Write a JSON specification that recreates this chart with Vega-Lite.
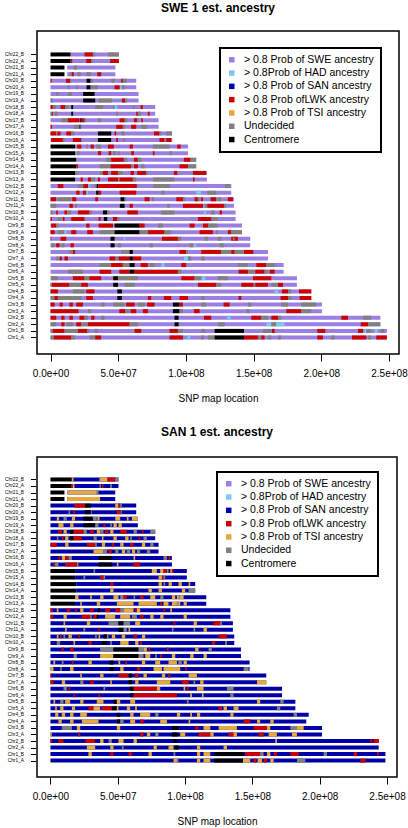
{
"$schema": "https://vega.github.io/schema/vega-lite/v6.json",
"padding": {"left": 3, "top": 1, "right": 0, "bottom": 0},
"spacing": 20,
"config": {
 "font": "Liberation Sans",
 "view": {"stroke": "#000", "strokeWidth": 1.5},
 "axis": {"domain": false, "grid": false, "tickColor": "#000", "tickWidth": 1, "labelColor": "#000", "titleColor": "#000", "titleFontWeight": "normal", "labelFont": "Liberation Sans", "titleFont": "Liberation Sans"},
 "title": {"color": "#000", "font": "Liberation Sans", "fontSize": 12, "fontWeight": "bold", "anchor": "middle", "frame": "group"},
 "legend": {"orient": "none", "title": null, "symbolType": "square", "symbolSize": 30, "symbolStrokeWidth": 0, "labelFontSize": 10.5, "labelFont": "Liberation Sans", "labelColor": "#000", "labelOffset": 7, "rowPadding": 2.3, "padding": 6.5, "strokeColor": "#000", "strokeWidth": 2, "fillColor": "#fff", "labelLimit": 300}
},
"resolve": {"scale": {"color": "independent"}, "legend": {"color": "independent"}},
"datasets": {
"swe": [
{"r":1,"s":0,"e":248.5,"k":"S"},{"r":2,"s":0,"e":248.5,"k":"S"},{"r":3,"s":0,"e":243.6,"k":"S"},{"r":4,"s":0,"e":243.6,"k":"S"},{"r":5,"s":0,"e":200.5,"k":"S"},{"r":6,"s":0,"e":200.5,"k":"S"},{"r":7,"s":0,"e":192.6,"k":"S"},{"r":8,"s":0,"e":192.6,"k":"S"},{"r":9,"s":0,"e":182,"k":"S"},{"r":10,"s":0,"e":182,"k":"S"},{"r":11,"s":0,"e":172.2,"k":"S"},{"r":12,"s":0,"e":172.2,"k":"S"},{"r":13,"s":0,"e":160.6,"k":"S"},{"r":14,"s":0,"e":160.6,"k":"S"},{"r":15,"s":0,"e":147.5,"k":"S"},{"r":16,"s":0,"e":147.5,"k":"S"},{"r":17,"s":0,"e":141.4,"k":"S"},{"r":18,"s":0,"e":141.4,"k":"S"},{"r":19,"s":0,"e":136.7,"k":"S"},{"r":20,"s":0,"e":136.7,"k":"S"},{"r":21,"s":0,"e":135.5,"k":"S"},{"r":22,"s":0,"e":135.5,"k":"S"},{"r":23,"s":0,"e":133.5,"k":"S"},{"r":24,"s":0,"e":133.5,"k":"S"},{"r":25,"s":18.2,"e":115.5,"k":"S"},{"r":26,"s":18.2,"e":115.5,"k":"S"},{"r":27,"s":19,"e":107.6,"k":"S"},{"r":28,"s":19,"e":107.6,"k":"S"},{"r":29,"s":18.2,"e":101.5,"k":"S"},{"r":30,"s":18.2,"e":101.5,"k":"S"},{"r":31,"s":0,"e":89.8,"k":"S"},{"r":32,"s":0,"e":89.8,"k":"S"},{"r":33,"s":0,"e":79.8,"k":"S"},{"r":34,"s":0,"e":79.8,"k":"S"},{"r":35,"s":0,"e":77.3,"k":"S"},{"r":36,"s":0,"e":77.3,"k":"S"},{"r":37,"s":0,"e":65,"k":"S"},{"r":38,"s":0,"e":65,"k":"S"},{"r":39,"s":0,"e":63.3,"k":"S"},{"r":40,"s":0,"e":63.3,"k":"S"},{"r":41,"s":12.3,"e":47.9,"k":"S"},{"r":42,"s":12.3,"e":47.9,"k":"S"},{"r":43,"s":14.8,"e":50.5,"k":"S"},{"r":44,"s":14.8,"e":50.5,"k":"S"},
{"r":44,"s":0,"e":14.8,"k":"C"},{"r":44,"s":25.1,"e":31.3,"k":"L"},{"r":44,"s":31.3,"e":33,"k":"U"},{"r":44,"s":42.4,"e":50.5,"k":"U"},
{"r":43,"s":0,"e":14.8,"k":"C"},{"r":43,"s":14.8,"e":16,"k":"L"},{"r":43,"s":26.4,"e":30,"k":"L"},{"r":43,"s":30,"e":31,"k":"U"},{"r":43,"s":44,"e":50.5,"k":"L"},
{"r":42,"s":0,"e":10.3,"k":"C"},{"r":42,"s":17.2,"e":19.7,"k":"U"},
{"r":41,"s":0,"e":10.3,"k":"C"},{"r":41,"s":14,"e":15.8,"k":"U"},{"r":41,"s":15.8,"e":17.2,"k":"L"},{"r":41,"s":19.7,"e":22.2,"k":"U"},{"r":41,"s":26.4,"e":30,"k":"U"},{"r":41,"s":34.5,"e":37.4,"k":"L"},
{"r":40,"s":0,"e":0.8,"k":"L"},{"r":40,"s":11.4,"e":14.4,"k":"L"},{"r":40,"s":14.4,"e":15.3,"k":"U"},{"r":40,"s":26.6,"e":29.6,"k":"C"},{"r":40,"s":29.6,"e":31.3,"k":"U"},{"r":40,"s":44.8,"e":47.5,"k":"U"},{"r":40,"s":52.2,"e":53.4,"k":"L"},{"r":40,"s":53.4,"e":56.3,"k":"U"},
{"r":39,"s":12.8,"e":14,"k":"U"},{"r":39,"s":19,"e":20.2,"k":"U"},{"r":39,"s":26.6,"e":29.6,"k":"C"},{"r":39,"s":29.6,"e":35,"k":"U"},{"r":39,"s":47.3,"e":51,"k":"L"},{"r":39,"s":51.5,"e":52.7,"k":"H"},{"r":39,"s":52.7,"e":54.7,"k":"U"},
{"r":38,"s":4.2,"e":5.9,"k":"U"},{"r":38,"s":12.8,"e":15.8,"k":"U"},{"r":38,"s":24.1,"e":32.5,"k":"C"},
{"r":37,"s":0,"e":1.7,"k":"U"},{"r":37,"s":24.1,"e":33,"k":"C"},{"r":37,"s":35.5,"e":45.3,"k":"U"},{"r":37,"s":52.7,"e":55.2,"k":"L"},{"r":37,"s":55.2,"e":56.7,"k":"U"},
{"r":36,"s":0,"e":1.7,"k":"L"},{"r":36,"s":1.7,"e":4.2,"k":"U"},{"r":36,"s":7.4,"e":10.8,"k":"L"},{"r":36,"s":10.8,"e":12.8,"k":"U"},{"r":36,"s":15.3,"e":16.7,"k":"C"},{"r":36,"s":33,"e":38.7,"k":"U"},{"r":36,"s":46.1,"e":47.3,"k":"U"},{"r":36,"s":47.3,"e":49.3,"k":"H"},{"r":36,"s":60.8,"e":62.1,"k":"U"},{"r":36,"s":66.5,"e":68.2,"k":"L"},
{"r":35,"s":0,"e":1,"k":"U"},{"r":35,"s":1,"e":1.7,"k":"L"},{"r":35,"s":3,"e":5.4,"k":"U"},{"r":35,"s":15.3,"e":16.7,"k":"C"},{"r":35,"s":48.5,"e":49.8,"k":"U"},{"r":35,"s":63.3,"e":64.5,"k":"L"},{"r":35,"s":64.5,"e":67,"k":"U"},{"r":35,"s":71.9,"e":73.2,"k":"L"},
{"r":34,"s":7.9,"e":12.8,"k":"U"},{"r":34,"s":12.8,"e":21.4,"k":"L"},{"r":34,"s":21.9,"e":22.9,"k":"C"},{"r":34,"s":22.9,"e":25.1,"k":"L"},{"r":34,"s":25.1,"e":26.4,"k":"U"},{"r":34,"s":35,"e":37.4,"k":"U"},{"r":34,"s":51,"e":54.7,"k":"L"},{"r":34,"s":55.2,"e":56.7,"k":"U"},{"r":34,"s":61.6,"e":64,"k":"L"},{"r":34,"s":64,"e":65,"k":"U"},{"r":34,"s":67,"e":68.2,"k":"L"},
{"r":33,"s":0,"e":1,"k":"L"},{"r":33,"s":17.2,"e":21.4,"k":"U"},{"r":33,"s":21.4,"e":22.2,"k":"C"},{"r":33,"s":22.2,"e":22.7,"k":"U"},{"r":33,"s":48.5,"e":53.4,"k":"L"},{"r":33,"s":53.4,"e":55.2,"k":"U"},{"r":33,"s":59.6,"e":63.3,"k":"L"},{"r":33,"s":67,"e":71.4,"k":"U"},
{"r":32,"s":0,"e":4,"k":"L"},{"r":32,"s":4,"e":5,"k":"U"},{"r":32,"s":5,"e":7.4,"k":"L"},{"r":32,"s":11.6,"e":15.3,"k":"L"},{"r":32,"s":15.3,"e":17.7,"k":"U"},{"r":32,"s":35,"e":44.8,"k":"C"},{"r":32,"s":47.3,"e":48.5,"k":"L"},{"r":32,"s":52.2,"e":54.7,"k":"U"},{"r":32,"s":76.4,"e":80.5,"k":"L"},{"r":32,"s":80.5,"e":81.8,"k":"U"},{"r":32,"s":85.5,"e":89.7,"k":"U"},
{"r":31,"s":0.5,"e":9.1,"k":"L"},{"r":31,"s":9.1,"e":10.5,"k":"U"},{"r":31,"s":16.5,"e":22.7,"k":"L"},{"r":31,"s":35,"e":44.8,"k":"C"},{"r":31,"s":48.5,"e":49.8,"k":"L"},{"r":31,"s":53.4,"e":54.7,"k":"U"},{"r":31,"s":80.5,"e":84.2,"k":"L"},{"r":31,"s":84.2,"e":85.5,"k":"U"},{"r":31,"s":85.5,"e":89.2,"k":"L"},
{"r":30,"s":0,"e":18.2,"k":"C"},{"r":30,"s":19.7,"e":22.7,"k":"L"},{"r":30,"s":26.4,"e":27.6,"k":"U"},{"r":30,"s":29.6,"e":32,"k":"L"},{"r":30,"s":33.7,"e":37.4,"k":"U"},{"r":30,"s":42.4,"e":46.8,"k":"L"},{"r":30,"s":58.4,"e":60.8,"k":"L"},{"r":30,"s":75.6,"e":87.9,"k":"U"},{"r":30,"s":93.6,"e":96.1,"k":"L"},
{"r":29,"s":0,"e":18.2,"k":"C"},{"r":29,"s":19.7,"e":21.4,"k":"U"},{"r":29,"s":35,"e":37.4,"k":"L"},{"r":29,"s":42.9,"e":44.8,"k":"L"},{"r":29,"s":46.1,"e":48.5,"k":"U"},{"r":29,"s":49.8,"e":51,"k":"U"},{"r":29,"s":59.6,"e":61.6,"k":"L"},{"r":29,"s":75.6,"e":76.8,"k":"L"},{"r":29,"s":87.9,"e":89.7,"k":"U"},
{"r":28,"s":0,"e":19,"k":"C"},{"r":28,"s":41.1,"e":44.8,"k":"U"},{"r":28,"s":44.8,"e":54.2,"k":"L"},{"r":28,"s":54.2,"e":56.7,"k":"U"},{"r":28,"s":61.6,"e":64.5,"k":"L"},{"r":28,"s":64.5,"e":67,"k":"U"},{"r":28,"s":98.5,"e":103.4,"k":"L"},{"r":28,"s":103.4,"e":107.6,"k":"U"},
{"r":27,"s":0,"e":19,"k":"C"},{"r":27,"s":19,"e":20.2,"k":"L"},{"r":27,"s":36.2,"e":44.3,"k":"U"},{"r":27,"s":44.3,"e":59.6,"k":"L"},{"r":27,"s":59.6,"e":60.8,"k":"U"},{"r":27,"s":61.6,"e":64.5,"k":"L"},{"r":27,"s":67,"e":69.5,"k":"U"},{"r":27,"s":95.3,"e":101.5,"k":"L"},{"r":27,"s":101.5,"e":107.6,"k":"U"},
{"r":26,"s":0,"e":18.2,"k":"C"},{"r":26,"s":18.2,"e":20.2,"k":"U"},{"r":26,"s":36.2,"e":38.7,"k":"U"},{"r":26,"s":38.7,"e":42.4,"k":"L"},{"r":26,"s":44.8,"e":49.8,"k":"L"},{"r":26,"s":49.8,"e":53.4,"k":"U"},{"r":26,"s":59.1,"e":61.6,"k":"L"},{"r":26,"s":64,"e":70.7,"k":"L"},{"r":26,"s":70.7,"e":71.9,"k":"U"},{"r":26,"s":91.1,"e":93.6,"k":"L"},{"r":26,"s":105.2,"e":115,"k":"L"},
{"r":25,"s":0,"e":18.2,"k":"C"},{"r":25,"s":22.2,"e":23.9,"k":"L"},{"r":25,"s":27.6,"e":30,"k":"L"},{"r":25,"s":30,"e":33,"k":"U"},{"r":25,"s":35,"e":36.5,"k":"L"},{"r":25,"s":42.4,"e":50,"k":"L"},{"r":25,"s":50,"e":51,"k":"U"},{"r":25,"s":51,"e":60.8,"k":"L"},{"r":25,"s":60.8,"e":63.3,"k":"U"},{"r":25,"s":75.6,"e":91.6,"k":"U"},{"r":25,"s":105.2,"e":106.4,"k":"L"},
{"r":24,"s":5.3,"e":9.5,"k":"L"},{"r":24,"s":20.2,"e":23.9,"k":"U"},{"r":24,"s":24.2,"e":27.9,"k":"L"},{"r":24,"s":27.9,"e":29,"k":"H"},{"r":24,"s":32.5,"e":34.1,"k":"U"},{"r":24,"s":34.1,"e":35.3,"k":"C"},{"r":24,"s":35.3,"e":63.7,"k":"L"},{"r":24,"s":75.9,"e":88.3,"k":"U"},{"r":24,"s":128.9,"e":132.6,"k":"U"},
{"r":23,"s":19,"e":21.4,"k":"L"},{"r":23,"s":23.9,"e":26.4,"k":"L"},{"r":23,"s":26.4,"e":27.6,"k":"H"},{"r":23,"s":33.7,"e":35.5,"k":"C"},{"r":23,"s":35.5,"e":37.4,"k":"L"},{"r":23,"s":51,"e":63.3,"k":"L"},{"r":23,"s":81.8,"e":84.2,"k":"U"},{"r":23,"s":107.6,"e":111.3,"k":"H"},{"r":23,"s":115.8,"e":122.4,"k":"U"},
{"r":22,"s":0,"e":4.2,"k":"L"},{"r":22,"s":5.4,"e":15.3,"k":"U"},{"r":22,"s":16,"e":19,"k":"L"},{"r":22,"s":33,"e":35,"k":"L"},{"r":22,"s":51.7,"e":54.7,"k":"C"},{"r":22,"s":54.7,"e":55.9,"k":"U"},{"r":22,"s":69.5,"e":73.2,"k":"L"},{"r":22,"s":74.9,"e":76.4,"k":"U"},{"r":22,"s":92.9,"e":97.8,"k":"L"},{"r":22,"s":97.8,"e":99.5,"k":"U"},{"r":22,"s":106.4,"e":108.9,"k":"L"},{"r":22,"s":108.9,"e":110.8,"k":"U"},{"r":22,"s":111.3,"e":112.6,"k":"L"},{"r":22,"s":118.2,"e":122.4,"k":"L"},{"r":22,"s":123.6,"e":126.1,"k":"U"},{"r":22,"s":131,"e":134.7,"k":"L"},
{"r":21,"s":0,"e":4.2,"k":"U"},{"r":21,"s":14,"e":16.5,"k":"L"},{"r":21,"s":18.2,"e":19.5,"k":"U"},{"r":21,"s":51.2,"e":54.7,"k":"C"},{"r":21,"s":58.4,"e":60.8,"k":"L"},{"r":21,"s":86.2,"e":87.9,"k":"U"},{"r":21,"s":97.8,"e":112.6,"k":"L"},{"r":21,"s":113.8,"e":115.8,"k":"U"},{"r":21,"s":115.8,"e":128.1,"k":"L"},{"r":21,"s":128.1,"e":129.8,"k":"U"},
{"r":20,"s":0,"e":1.7,"k":"U"},{"r":20,"s":4.2,"e":5.4,"k":"L"},{"r":20,"s":10.3,"e":12.3,"k":"L"},{"r":20,"s":12.8,"e":15.3,"k":"U"},{"r":20,"s":20.2,"e":28.8,"k":"L"},{"r":20,"s":28.8,"e":30.5,"k":"U"},{"r":20,"s":38.7,"e":41.9,"k":"C"},{"r":20,"s":41.9,"e":43.6,"k":"U"},{"r":20,"s":56.7,"e":64.5,"k":"L"},{"r":20,"s":81.8,"e":91.6,"k":"U"},{"r":20,"s":113.3,"e":114.8,"k":"H"},{"r":20,"s":118.7,"e":121.2,"k":"U"},{"r":20,"s":124.9,"e":126.6,"k":"L"},
{"r":19,"s":0,"e":1,"k":"L"},{"r":19,"s":5.4,"e":7.9,"k":"U"},{"r":19,"s":9.1,"e":10.3,"k":"L"},{"r":19,"s":15.3,"e":25.1,"k":"L"},{"r":19,"s":35.5,"e":36.9,"k":"L"},{"r":19,"s":39.4,"e":41.9,"k":"C"},{"r":19,"s":46.1,"e":49.3,"k":"L"},{"r":19,"s":49.8,"e":51,"k":"U"},{"r":19,"s":108.9,"e":118.7,"k":"L"},{"r":19,"s":118.7,"e":123.6,"k":"U"},
{"r":18,"s":0.5,"e":4.2,"k":"L"},{"r":18,"s":4.2,"e":5.9,"k":"U"},{"r":18,"s":26.4,"e":28.8,"k":"L"},{"r":18,"s":35.5,"e":46.1,"k":"L"},{"r":18,"s":47.3,"e":65.8,"k":"C"},{"r":18,"s":65.8,"e":69.5,"k":"L"},{"r":18,"s":79.3,"e":83,"k":"U"},{"r":18,"s":102.7,"e":106.4,"k":"L"},{"r":18,"s":112.6,"e":116.3,"k":"L"},{"r":18,"s":116.3,"e":123.2,"k":"U"},
{"r":17,"s":0,"e":3,"k":"L"},{"r":17,"s":5.4,"e":10.3,"k":"U"},{"r":17,"s":10.3,"e":11.6,"k":"H"},{"r":17,"s":15.3,"e":19,"k":"L"},{"r":17,"s":27.1,"e":31.3,"k":"L"},{"r":17,"s":36.2,"e":47.3,"k":"U"},{"r":17,"s":47.3,"e":65.8,"k":"C"},{"r":17,"s":65.8,"e":71.9,"k":"U"},{"r":17,"s":71.9,"e":84.2,"k":"L"},{"r":17,"s":84.2,"e":89.2,"k":"U"},{"r":17,"s":110.1,"e":119.9,"k":"L"},{"r":17,"s":122.4,"e":123.6,"k":"U"},{"r":17,"s":131,"e":133.5,"k":"L"},{"r":17,"s":133.5,"e":141.4,"k":"U"},
{"r":16,"s":0,"e":0.5,"k":"L"},{"r":16,"s":7.4,"e":11.6,"k":"L"},{"r":16,"s":44.3,"e":47.3,"k":"C"},{"r":16,"s":54.2,"e":55.2,"k":"H"},{"r":16,"s":82.3,"e":94.1,"k":"L"},{"r":16,"s":94.1,"e":96.6,"k":"U"},{"r":16,"s":113.8,"e":116.3,"k":"U"},{"r":16,"s":123.6,"e":126.1,"k":"U"},{"r":16,"s":133.5,"e":138.4,"k":"L"},{"r":16,"s":134.7,"e":136,"k":"U"},
{"r":15,"s":0.5,"e":3,"k":"U"},{"r":15,"s":4.2,"e":6.7,"k":"L"},{"r":15,"s":7.9,"e":10.3,"k":"U"},{"r":15,"s":14.8,"e":17.2,"k":"L"},{"r":15,"s":44.3,"e":47.3,"k":"C"},{"r":15,"s":49.8,"e":52.2,"k":"U"},{"r":15,"s":73.2,"e":75.6,"k":"U"},{"r":15,"s":102.7,"e":105.2,"k":"U"},{"r":15,"s":105.9,"e":107.6,"k":"H"},{"r":15,"s":125,"e":128,"k":"U"},
{"r":14,"s":14,"e":16.5,"k":"U"},{"r":14,"s":16.5,"e":18.2,"k":"L"},{"r":14,"s":52.2,"e":58.4,"k":"U"},{"r":14,"s":58.4,"e":60.8,"k":"C"},{"r":14,"s":95.3,"e":100.2,"k":"L"},{"r":14,"s":100.2,"e":101.5,"k":"U"},{"r":14,"s":111.3,"e":126.1,"k":"L"},{"r":14,"s":126.1,"e":133.5,"k":"U"},{"r":14,"s":133.5,"e":136,"k":"L"},{"r":14,"s":136,"e":142.9,"k":"U"},{"r":14,"s":142.9,"e":149.8,"k":"L"},
{"r":13,"s":4.2,"e":5.9,"k":"U"},{"r":13,"s":6.7,"e":8.4,"k":"L"},{"r":13,"s":10.3,"e":12.8,"k":"L"},{"r":13,"s":43.6,"e":48,"k":"L"},{"r":13,"s":48,"e":49.8,"k":"U"},{"r":13,"s":50.2,"e":58.4,"k":"L"},{"r":13,"s":58.4,"e":60.8,"k":"C"},{"r":13,"s":60.8,"e":67,"k":"L"},{"r":13,"s":98.5,"e":101.5,"k":"H"},{"r":13,"s":101.5,"e":103.9,"k":"U"},{"r":13,"s":111.3,"e":113.8,"k":"U"},
{"r":12,"s":36.2,"e":44.8,"k":"U"},{"r":12,"s":44.8,"e":53.4,"k":"L"},{"r":12,"s":53.4,"e":58.4,"k":"U"},{"r":12,"s":58.4,"e":62.1,"k":"C"},{"r":12,"s":66.5,"e":71.9,"k":"L"},{"r":12,"s":73.2,"e":76.8,"k":"U"},{"r":12,"s":81.8,"e":84.2,"k":"H"},{"r":12,"s":96.6,"e":100.2,"k":"L"},{"r":12,"s":138.4,"e":145.8,"k":"U"},{"r":12,"s":152,"e":159.4,"k":"L"},{"r":12,"s":159.4,"e":165.5,"k":"U"},
{"r":11,"s":12.8,"e":23.9,"k":"U"},{"r":11,"s":36.2,"e":44.8,"k":"L"},{"r":11,"s":50.8,"e":58.4,"k":"L"},{"r":11,"s":58.4,"e":62.1,"k":"C"},{"r":11,"s":62.1,"e":94.1,"k":"L"},{"r":11,"s":94.1,"e":96.6,"k":"U"},{"r":11,"s":138.9,"e":145.8,"k":"L"},{"r":11,"s":145.8,"e":150.7,"k":"U"},{"r":11,"s":151.2,"e":158.1,"k":"L"},{"r":11,"s":158.1,"e":160.6,"k":"U"},{"r":11,"s":161.8,"e":165.5,"k":"L"},
{"r":10,"s":0.5,"e":5.4,"k":"U"},{"r":10,"s":16.5,"e":25.1,"k":"L"},{"r":10,"s":25.1,"e":28.8,"k":"U"},{"r":10,"s":28.8,"e":37.4,"k":"L"},{"r":10,"s":46.3,"e":49.8,"k":"C"},{"r":10,"s":49.8,"e":64.5,"k":"U"},{"r":10,"s":96.6,"e":106.4,"k":"L"},{"r":10,"s":106.4,"e":111.3,"k":"U"},{"r":10,"s":111.8,"e":114.3,"k":"H"},{"r":10,"s":123.6,"e":131,"k":"U"},{"r":10,"s":149.5,"e":163.1,"k":"L"},
{"r":9,"s":0,"e":1,"k":"U"},{"r":9,"s":1,"e":14,"k":"L"},{"r":9,"s":14,"e":22.7,"k":"U"},{"r":9,"s":22.7,"e":27.6,"k":"L"},{"r":9,"s":46.3,"e":49.8,"k":"C"},{"r":9,"s":54.7,"e":62.1,"k":"U"},{"r":9,"s":108.9,"e":122.4,"k":"L"},{"r":9,"s":122.4,"e":126.1,"k":"U"},{"r":9,"s":140.9,"e":150,"k":"L"},{"r":9,"s":150,"e":151.2,"k":"U"},{"r":9,"s":151.2,"e":160.6,"k":"L"},{"r":9,"s":163.1,"e":168,"k":"U"},{"r":9,"s":168,"e":171.7,"k":"L"},
{"r":8,"s":0,"e":5.4,"k":"L"},{"r":8,"s":16.5,"e":25.1,"k":"U"},{"r":8,"s":26.4,"e":32.5,"k":"L"},{"r":8,"s":49.3,"e":52.7,"k":"C"},{"r":8,"s":165.5,"e":168,"k":"H"},{"r":8,"s":170.9,"e":175.4,"k":"L"},{"r":8,"s":175.4,"e":177.8,"k":"U"},{"r":8,"s":183.5,"e":192.6,"k":"L"},
{"r":7,"s":0,"e":22.7,"k":"U"},{"r":7,"s":3,"e":5.4,"k":"L"},{"r":7,"s":26.4,"e":31.3,"k":"L"},{"r":7,"s":49.3,"e":52.7,"k":"C"},{"r":7,"s":71.9,"e":74.4,"k":"L"},{"r":7,"s":83.7,"e":89.2,"k":"L"},{"r":7,"s":95.3,"e":101.5,"k":"L"},{"r":7,"s":111.3,"e":113.8,"k":"U"},{"r":7,"s":138.9,"e":140.9,"k":"L"},{"r":7,"s":169.9,"e":175.4,"k":"L"},{"r":7,"s":175.4,"e":177.8,"k":"U"},{"r":7,"s":184,"e":192.6,"k":"L"},
{"r":6,"s":0,"e":3,"k":"L"},{"r":6,"s":6.7,"e":9.1,"k":"L"},{"r":6,"s":14,"e":16.5,"k":"L"},{"r":6,"s":19,"e":23.9,"k":"L"},{"r":6,"s":37.4,"e":39.9,"k":"U"},{"r":6,"s":46.3,"e":54.7,"k":"U"},{"r":6,"s":55.9,"e":62.1,"k":"L"},{"r":6,"s":64.5,"e":69.5,"k":"U"},{"r":6,"s":71.4,"e":76.8,"k":"L"},{"r":6,"s":90.4,"e":95.3,"k":"C"},{"r":6,"s":95.3,"e":97.8,"k":"L"},{"r":6,"s":111.3,"e":115,"k":"U"},{"r":6,"s":127.8,"e":132.3,"k":"L"},{"r":6,"s":145.8,"e":148.3,"k":"U"},{"r":6,"s":170.4,"e":175.4,"k":"U"},{"r":6,"s":185.2,"e":196.3,"k":"U"},
{"r":5,"s":0,"e":20.7,"k":"L"},{"r":5,"s":27.6,"e":30,"k":"U"},{"r":5,"s":50.8,"e":55.2,"k":"L"},{"r":5,"s":55.2,"e":58.4,"k":"U"},{"r":5,"s":59.1,"e":63.3,"k":"L"},{"r":5,"s":68.2,"e":71.9,"k":"L"},{"r":5,"s":90.4,"e":95.3,"k":"C"},{"r":5,"s":95.3,"e":97.8,"k":"U"},{"r":5,"s":105.9,"e":110.1,"k":"L"},{"r":5,"s":144.6,"e":147,"k":"U"},{"r":5,"s":174.1,"e":185.2,"k":"L"},{"r":5,"s":185.2,"e":192.6,"k":"U"},
{"r":4,"s":0,"e":4.2,"k":"L"},{"r":4,"s":7.9,"e":10.3,"k":"L"},{"r":4,"s":14,"e":16.5,"k":"L"},{"r":4,"s":21.4,"e":25.1,"k":"L"},{"r":4,"s":25.1,"e":27.6,"k":"U"},{"r":4,"s":30,"e":32.5,"k":"L"},{"r":4,"s":37.4,"e":39.9,"k":"U"},{"r":4,"s":91.6,"e":94.6,"k":"C"},{"r":4,"s":113.3,"e":118.7,"k":"L"},{"r":4,"s":130.5,"e":133,"k":"H"},{"r":4,"s":148.3,"e":155.7,"k":"L"},{"r":4,"s":155.7,"e":160.6,"k":"U"},{"r":4,"s":163.1,"e":168,"k":"L"},{"r":4,"s":168,"e":170.4,"k":"U"},{"r":4,"s":214.8,"e":219.7,"k":"L"},{"r":4,"s":231,"e":236.9,"k":"U"},
{"r":3,"s":0,"e":4.2,"k":"U"},{"r":3,"s":7.9,"e":10.3,"k":"L"},{"r":3,"s":11.6,"e":16.5,"k":"U"},{"r":3,"s":19,"e":22.7,"k":"L"},{"r":3,"s":22.7,"e":27.6,"k":"U"},{"r":3,"s":27.6,"e":58.4,"k":"L"},{"r":3,"s":58.4,"e":64.5,"k":"U"},{"r":3,"s":91.6,"e":94.6,"k":"C"},{"r":3,"s":123.6,"e":128.6,"k":"U"},{"r":3,"s":159.4,"e":163.1,"k":"H"},{"r":3,"s":163.1,"e":166.7,"k":"U"},{"r":3,"s":166.7,"e":172.9,"k":"H"},{"r":3,"s":229.1,"e":234.5,"k":"L"},{"r":3,"s":234.5,"e":243.6,"k":"U"},
{"r":2,"s":0,"e":1.7,"k":"U"},{"r":2,"s":1.7,"e":10.3,"k":"L"},{"r":2,"s":10.3,"e":20.2,"k":"U"},{"r":2,"s":20.2,"e":27.1,"k":"L"},{"r":2,"s":27.1,"e":28.8,"k":"U"},{"r":2,"s":32.5,"e":35,"k":"U"},{"r":2,"s":62.1,"e":67,"k":"L"},{"r":2,"s":87.9,"e":94.1,"k":"L"},{"r":2,"s":94.1,"e":97.8,"k":"U"},{"r":2,"s":111.3,"e":114.3,"k":"U"},{"r":2,"s":121.2,"e":142.9,"k":"C"},{"r":2,"s":156.9,"e":163.1,"k":"U"},{"r":2,"s":163.5,"e":165.5,"k":"L"},{"r":2,"s":197,"e":203,"k":"L"},{"r":2,"s":203,"e":203.7,"k":"U"},{"r":2,"s":227.1,"e":230.8,"k":"L"},{"r":2,"s":232,"e":233.3,"k":"H"},{"r":2,"s":233.3,"e":236.9,"k":"U"},{"r":2,"s":239.4,"e":241.9,"k":"H"},{"r":2,"s":244.3,"e":246.3,"k":"U"},
{"r":1,"s":0,"e":2.5,"k":"U"},{"r":1,"s":2.5,"e":15.3,"k":"L"},{"r":1,"s":15.3,"e":18.2,"k":"U"},{"r":1,"s":28.8,"e":33,"k":"U"},{"r":1,"s":33,"e":37.4,"k":"L"},{"r":1,"s":87.9,"e":97.8,"k":"L"},{"r":1,"s":101,"e":103.4,"k":"H"},{"r":1,"s":111.3,"e":113.3,"k":"U"},{"r":1,"s":116.3,"e":121.2,"k":"U"},{"r":1,"s":121.2,"e":142.9,"k":"C"},{"r":1,"s":142.9,"e":153.2,"k":"L"},{"r":1,"s":153.2,"e":155.7,"k":"U"},{"r":1,"s":155.7,"e":158.1,"k":"L"},{"r":1,"s":160.6,"e":163.1,"k":"U"},{"r":1,"s":168,"e":170.4,"k":"U"},{"r":1,"s":197,"e":201.2,"k":"L"},{"r":1,"s":207.4,"e":209.9,"k":"U"},{"r":1,"s":222.7,"e":233.3,"k":"L"},{"r":1,"s":234.5,"e":236.9,"k":"U"},{"r":1,"s":240.6,"e":248.5,"k":"L"}
],
"san": [
{"r":1,"s":0,"e":248.8,"k":"N"},{"r":2,"s":0,"e":248.8,"k":"N"},{"r":3,"s":0,"e":243.8,"k":"N"},{"r":4,"s":0,"e":243.8,"k":"N"},{"r":5,"s":0,"e":201.7,"k":"N"},{"r":6,"s":0,"e":201.7,"k":"N"},{"r":7,"s":0,"e":190,"k":"N"},{"r":8,"s":0,"e":191.8,"k":"N"},{"r":9,"s":0,"e":181.9,"k":"N"},{"r":10,"s":0,"e":181.9,"k":"N"},{"r":11,"s":0,"e":172,"k":"N"},{"r":12,"s":0,"e":172,"k":"N"},{"r":13,"s":0,"e":160.3,"k":"N"},{"r":14,"s":0,"e":160.3,"k":"N"},{"r":15,"s":0,"e":147.9,"k":"N"},{"r":16,"s":0,"e":147.9,"k":"N"},{"r":17,"s":0,"e":141.5,"k":"N"},{"r":18,"s":0,"e":141.5,"k":"N"},{"r":19,"s":0,"e":136.5,"k":"N"},{"r":20,"s":0,"e":136.5,"k":"N"},{"r":21,"s":0,"e":135.5,"k":"N"},{"r":22,"s":0,"e":135.5,"k":"N"},{"r":23,"s":0,"e":133.6,"k":"N"},{"r":24,"s":0,"e":133.6,"k":"N"},{"r":25,"s":18.3,"e":115.7,"k":"N"},{"r":26,"s":18.3,"e":115.7,"k":"N"},{"r":27,"s":19.1,"e":107.5,"k":"N"},{"r":28,"s":19.1,"e":107.5,"k":"N"},{"r":29,"s":18.3,"e":101.3,"k":"N"},{"r":30,"s":18.3,"e":101.3,"k":"N"},{"r":31,"s":0,"e":90.2,"k":"N"},{"r":32,"s":0,"e":90.2,"k":"N"},{"r":33,"s":0,"e":80.3,"k":"N"},{"r":34,"s":0,"e":80.3,"k":"N"},{"r":35,"s":0,"e":77.8,"k":"N"},{"r":36,"s":0,"e":77.8,"k":"N"},{"r":37,"s":0,"e":64.9,"k":"N"},{"r":38,"s":0,"e":64.9,"k":"N"},{"r":39,"s":0,"e":63.7,"k":"N"},{"r":40,"s":0,"e":63.7,"k":"N"},{"r":41,"s":12.6,"e":48.1,"k":"N"},{"r":42,"s":12.6,"e":48.1,"k":"N"},{"r":43,"s":15.4,"e":50.5,"k":"N"},{"r":44,"s":15.9,"e":50.5,"k":"N"},
{"r":44,"s":0,"e":15.9,"k":"C"},{"r":44,"s":15.9,"e":17.1,"k":"T"},{"r":44,"s":36.4,"e":42.4,"k":"T"},{"r":44,"s":42.4,"e":48.1,"k":"L"},{"r":44,"s":48.1,"e":50.5,"k":"U"},
{"r":43,"s":0,"e":15.4,"k":"C"},{"r":43,"s":15.4,"e":16.6,"k":"L"},{"r":43,"s":16.6,"e":17.8,"k":"T"},{"r":43,"s":36.4,"e":37.4,"k":"U"},{"r":43,"s":38.2,"e":39.4,"k":"L"},{"r":43,"s":44.4,"e":45.6,"k":"U"},
{"r":42,"s":0,"e":10.4,"k":"C"},{"r":42,"s":12.6,"e":34.4,"k":"T"},{"r":42,"s":34.4,"e":35.7,"k":"U"},
{"r":41,"s":0,"e":10.4,"k":"C"},{"r":41,"s":12.6,"e":36.9,"k":"T"},
{"r":40,"s":17.6,"e":25.8,"k":"L"},{"r":40,"s":25.8,"e":30,"k":"C"},{"r":40,"s":48.1,"e":50.5,"k":"T"},{"r":40,"s":50.5,"e":51.8,"k":"L"},{"r":40,"s":51.8,"e":53,"k":"U"},
{"r":39,"s":13.4,"e":14.6,"k":"U"},{"r":39,"s":17.1,"e":18.3,"k":"L"},{"r":39,"s":25.8,"e":30,"k":"C"},{"r":39,"s":30,"e":30.7,"k":"U"},{"r":39,"s":49.3,"e":52.3,"k":"L"},{"r":39,"s":52.3,"e":53,"k":"U"},
{"r":38,"s":4.7,"e":6.4,"k":"T"},{"r":38,"s":9.7,"e":12.1,"k":"U"},{"r":38,"s":15.9,"e":18.3,"k":"T"},{"r":38,"s":24.5,"e":31.5,"k":"C"},{"r":38,"s":31.5,"e":34.4,"k":"U"},{"r":38,"s":34.9,"e":36.4,"k":"T"},{"r":38,"s":48.1,"e":51.8,"k":"T"},{"r":38,"s":56.7,"e":58,"k":"T"},{"r":38,"s":60.5,"e":64.9,"k":"T"},
{"r":37,"s":5.9,"e":9.7,"k":"T"},{"r":37,"s":14.6,"e":17.1,"k":"T"},{"r":37,"s":24.5,"e":33.2,"k":"C"},{"r":37,"s":33.2,"e":35.7,"k":"U"},{"r":37,"s":39.4,"e":40.6,"k":"L"},{"r":37,"s":44.4,"e":45.6,"k":"U"},{"r":37,"s":46.8,"e":49.3,"k":"T"},{"r":37,"s":50.5,"e":53,"k":"T"},
{"r":36,"s":5.9,"e":8.4,"k":"L"},{"r":36,"s":9.7,"e":12.1,"k":"T"},{"r":36,"s":14.6,"e":17.1,"k":"C"},{"r":36,"s":17.1,"e":24.5,"k":"L"},{"r":36,"s":24.5,"e":27,"k":"U"},{"r":36,"s":29.5,"e":32,"k":"L"},{"r":36,"s":34.4,"e":36.9,"k":"T"},{"r":36,"s":36.9,"e":39.4,"k":"U"},{"r":36,"s":40.6,"e":43.1,"k":"L"},{"r":36,"s":44.4,"e":46.8,"k":"T"},{"r":36,"s":51.8,"e":56.7,"k":"L"},{"r":36,"s":61.7,"e":64.2,"k":"U"},{"r":36,"s":67.9,"e":69.1,"k":"L"},{"r":36,"s":74.1,"e":77.8,"k":"U"},
{"r":35,"s":4.7,"e":5.9,"k":"U"},{"r":35,"s":8.4,"e":9.7,"k":"L"},{"r":35,"s":10.9,"e":13.4,"k":"T"},{"r":35,"s":14.6,"e":17.1,"k":"C"},{"r":35,"s":17.1,"e":23.3,"k":"L"},{"r":35,"s":32,"e":34.4,"k":"U"},{"r":35,"s":38.2,"e":39.4,"k":"T"},{"r":35,"s":46.8,"e":49.3,"k":"T"},{"r":35,"s":55.5,"e":58,"k":"T"},{"r":35,"s":59.2,"e":60.5,"k":"U"},{"r":35,"s":65.4,"e":66.6,"k":"L"},{"r":35,"s":69.1,"e":71.6,"k":"U"},
{"r":34,"s":0,"e":4.7,"k":"L"},{"r":34,"s":10.9,"e":13.4,"k":"T"},{"r":34,"s":27,"e":33.2,"k":"L"},{"r":34,"s":33.2,"e":34.4,"k":"U"},{"r":34,"s":38.2,"e":40.6,"k":"T"},{"r":34,"s":45.6,"e":47.3,"k":"L"},{"r":34,"s":51.8,"e":54.3,"k":"T"},{"r":34,"s":59.2,"e":61.7,"k":"L"},{"r":34,"s":67.9,"e":70.4,"k":"T"},{"r":34,"s":74.1,"e":76.6,"k":"U"},
{"r":33,"s":32,"e":39.4,"k":"T"},{"r":33,"s":39.4,"e":41.9,"k":"U"},{"r":33,"s":43.1,"e":45.6,"k":"L"},{"r":33,"s":48.1,"e":50.5,"k":"U"},{"r":33,"s":53,"e":55.5,"k":"T"},{"r":33,"s":56.7,"e":59.2,"k":"U"},{"r":33,"s":60.5,"e":62.9,"k":"T"},{"r":33,"s":64.2,"e":66.6,"k":"U"},{"r":33,"s":71.6,"e":74.1,"k":"U"},
{"r":32,"s":5.9,"e":7.2,"k":"L"},{"r":32,"s":8.4,"e":10.9,"k":"T"},{"r":32,"s":10.9,"e":13.4,"k":"L"},{"r":32,"s":13.4,"e":15.9,"k":"U"},{"r":32,"s":35.7,"e":45.6,"k":"C"},{"r":32,"s":61.7,"e":62.9,"k":"T"},{"r":32,"s":84,"e":86.5,"k":"U"},{"r":32,"s":87.7,"e":89,"k":"L"},
{"r":31,"s":2.2,"e":3.5,"k":"L"},{"r":31,"s":3.5,"e":5.9,"k":"U"},{"r":31,"s":10.9,"e":19.6,"k":"L"},{"r":31,"s":19.6,"e":20.8,"k":"U"},{"r":31,"s":35.7,"e":45.6,"k":"C"},{"r":31,"s":49.3,"e":50.5,"k":"T"},{"r":31,"s":61.7,"e":66.6,"k":"L"},
{"r":30,"s":0,"e":18.3,"k":"C"},{"r":30,"s":32,"e":33.2,"k":"U"},{"r":30,"s":75.3,"e":79,"k":"T"},{"r":30,"s":81.5,"e":84,"k":"T"},{"r":30,"s":84,"e":86.5,"k":"L"},{"r":30,"s":86.5,"e":87.7,"k":"U"},{"r":30,"s":89,"e":90.2,"k":"T"},{"r":30,"s":90.2,"e":91.4,"k":"L"},
{"r":29,"s":0,"e":18.3,"k":"C"},{"r":29,"s":24.5,"e":25.8,"k":"U"},{"r":29,"s":36.9,"e":39.4,"k":"L"},{"r":29,"s":39.4,"e":40.6,"k":"U"},{"r":29,"s":80.3,"e":82.8,"k":"T"},{"r":29,"s":82.8,"e":84,"k":"L"},{"r":29,"s":84,"e":85.2,"k":"U"},
{"r":28,"s":0,"e":19.1,"k":"C"},{"r":28,"s":44.4,"e":46.8,"k":"L"},{"r":28,"s":80.3,"e":82.8,"k":"T"},{"r":28,"s":84,"e":85.2,"k":"U"},{"r":28,"s":87.7,"e":90.2,"k":"T"},{"r":28,"s":95.1,"e":97.6,"k":"T"},{"r":28,"s":102.6,"e":103.8,"k":"T"},
{"r":27,"s":0,"e":19.1,"k":"C"},{"r":27,"s":44.4,"e":46.8,"k":"T"},{"r":27,"s":72.8,"e":75.3,"k":"T"},{"r":27,"s":80.3,"e":82.8,"k":"T"},{"r":27,"s":97.6,"e":100.1,"k":"T"},{"r":27,"s":102.6,"e":107.5,"k":"U"},
{"r":26,"s":0,"e":18.3,"k":"C"},{"r":26,"s":18.3,"e":20.8,"k":"T"},{"r":26,"s":29.5,"e":30.7,"k":"T"},{"r":26,"s":36.9,"e":39.4,"k":"T"},{"r":26,"s":46.8,"e":50.5,"k":"T"},{"r":26,"s":51.8,"e":54.3,"k":"U"},{"r":26,"s":54.3,"e":56.7,"k":"L"},{"r":26,"s":61.7,"e":62.9,"k":"U"},{"r":26,"s":66.6,"e":69.1,"k":"L"},{"r":26,"s":74.1,"e":77.8,"k":"T"},{"r":26,"s":81.5,"e":84,"k":"U"},{"r":26,"s":90.2,"e":92.7,"k":"T"},{"r":26,"s":93.9,"e":98.9,"k":"T"},{"r":26,"s":95.1,"e":96.4,"k":"U"},
{"r":25,"s":0,"e":18.3,"k":"C"},{"r":25,"s":22.1,"e":23.3,"k":"T"},{"r":25,"s":34.4,"e":36.9,"k":"T"},{"r":25,"s":49.3,"e":61.7,"k":"T"},{"r":25,"s":65.4,"e":79,"k":"T"},{"r":25,"s":81.5,"e":82.8,"k":"L"},{"r":25,"s":84,"e":87.7,"k":"T"},{"r":25,"s":90.2,"e":96.4,"k":"T"},{"r":25,"s":93.9,"e":95.1,"k":"U"},{"r":25,"s":98.9,"e":101.3,"k":"T"},
{"r":24,"s":0,"e":1.7,"k":"L"},{"r":24,"s":4.7,"e":5.9,"k":"T"},{"r":24,"s":12.1,"e":14.6,"k":"L"},{"r":24,"s":18.3,"e":19.6,"k":"L"},{"r":24,"s":22.1,"e":24.5,"k":"T"},{"r":24,"s":29.5,"e":32,"k":"L"},{"r":24,"s":35.2,"e":36.9,"k":"C"},{"r":24,"s":40.6,"e":44.4,"k":"L"},{"r":24,"s":48.1,"e":51.8,"k":"L"},{"r":24,"s":51.8,"e":54.3,"k":"U"},{"r":24,"s":54.3,"e":61.7,"k":"T"},{"r":24,"s":62.9,"e":64.2,"k":"L"},{"r":24,"s":64.2,"e":66.6,"k":"T"},{"r":24,"s":84,"e":85.2,"k":"L"},{"r":24,"s":89,"e":90.2,"k":"T"},
{"r":23,"s":0,"e":2.2,"k":"L"},{"r":23,"s":9.7,"e":12.1,"k":"T"},{"r":23,"s":23.3,"e":29.5,"k":"L"},{"r":23,"s":29.5,"e":30.7,"k":"U"},{"r":23,"s":32,"e":34.4,"k":"L"},{"r":23,"s":34.4,"e":35.7,"k":"C"},{"r":23,"s":40.6,"e":48.1,"k":"T"},{"r":23,"s":51.8,"e":59.2,"k":"T"},{"r":23,"s":60.5,"e":64.2,"k":"U"},{"r":23,"s":66.6,"e":69.1,"k":"L"},{"r":23,"s":74.1,"e":76.6,"k":"T"},{"r":23,"s":81.5,"e":84,"k":"T"},{"r":23,"s":98.9,"e":101.3,"k":"T"},
{"r":22,"s":9.7,"e":10.9,"k":"T"},{"r":22,"s":27,"e":29.5,"k":"T"},{"r":22,"s":43.1,"e":50.5,"k":"U"},{"r":22,"s":50.5,"e":54.3,"k":"C"},{"r":22,"s":54.3,"e":59.2,"k":"U"},{"r":22,"s":62.9,"e":66.6,"k":"T"},{"r":22,"s":91.4,"e":92.7,"k":"L"},{"r":22,"s":106.3,"e":108.8,"k":"T"},{"r":22,"s":121.2,"e":126.1,"k":"L"},{"r":22,"s":126.1,"e":127.4,"k":"U"},
{"r":21,"s":10.9,"e":12.1,"k":"T"},{"r":21,"s":24.5,"e":25.8,"k":"U"},{"r":21,"s":35.7,"e":36.9,"k":"L"},{"r":21,"s":50.5,"e":54.3,"k":"C"},{"r":21,"s":54.3,"e":56.7,"k":"U"},{"r":21,"s":58,"e":59.2,"k":"T"},{"r":21,"s":90.2,"e":91.4,"k":"U"},{"r":21,"s":106.3,"e":107.5,"k":"U"},{"r":21,"s":113.7,"e":116.2,"k":"T"},
{"r":20,"s":4.7,"e":5.9,"k":"T"},{"r":20,"s":7.2,"e":8.4,"k":"L"},{"r":20,"s":9.7,"e":10.9,"k":"U"},{"r":20,"s":13.4,"e":15.9,"k":"T"},{"r":20,"s":20.8,"e":22.1,"k":"L"},{"r":20,"s":33.2,"e":34.4,"k":"U"},{"r":20,"s":35.7,"e":36.9,"k":"T"},{"r":20,"s":39.4,"e":41.9,"k":"C"},{"r":20,"s":41.9,"e":43.1,"k":"U"},{"r":20,"s":45.6,"e":48.1,"k":"T"},{"r":20,"s":53,"e":55.5,"k":"T"},{"r":20,"s":61.7,"e":64.2,"k":"L"},{"r":20,"s":67.9,"e":70.4,"k":"T"},{"r":20,"s":124.9,"e":131.1,"k":"L"},
{"r":19,"s":4.7,"e":7.2,"k":"U"},{"r":19,"s":17.1,"e":18.3,"k":"T"},{"r":19,"s":28.2,"e":30.7,"k":"L"},{"r":19,"s":38.2,"e":41.9,"k":"C"},{"r":19,"s":44.4,"e":45.6,"k":"U"},{"r":19,"s":51.8,"e":58,"k":"T"},{"r":19,"s":62.9,"e":65.4,"k":"T"},{"r":19,"s":66.6,"e":67.9,"k":"L"},{"r":19,"s":119.9,"e":122.4,"k":"L"},{"r":19,"s":129.8,"e":131.1,"k":"U"},
{"r":18,"s":8.4,"e":9.7,"k":"L"},{"r":18,"s":14.6,"e":17.1,"k":"L"},{"r":18,"s":36.9,"e":46.8,"k":"U"},{"r":18,"s":46.8,"e":65.4,"k":"C"},{"r":18,"s":65.4,"e":69.1,"k":"U"},{"r":18,"s":69.1,"e":71.6,"k":"T"},{"r":18,"s":72.8,"e":74.1,"k":"L"},{"r":18,"s":86.5,"e":87.7,"k":"L"},{"r":18,"s":107.5,"e":110,"k":"T"},{"r":18,"s":117.4,"e":119.9,"k":"U"},
{"r":17,"s":17.1,"e":19.6,"k":"U"},{"r":17,"s":36.9,"e":46.8,"k":"T"},{"r":17,"s":46.8,"e":65.4,"k":"C"},{"r":17,"s":65.4,"e":69.1,"k":"U"},{"r":17,"s":70.4,"e":74.1,"k":"T"},{"r":17,"s":77.8,"e":79,"k":"U"},{"r":17,"s":81.5,"e":82.8,"k":"L"},{"r":17,"s":90.2,"e":92.7,"k":"T"},{"r":17,"s":103.8,"e":106.3,"k":"T"},{"r":17,"s":113.7,"e":116.2,"k":"T"},
{"r":16,"s":2.2,"e":3.5,"k":"T"},{"r":16,"s":8.4,"e":9.7,"k":"U"},{"r":16,"s":15.9,"e":17.1,"k":"L"},{"r":16,"s":28.2,"e":30.7,"k":"T"},{"r":16,"s":43.9,"e":46.8,"k":"C"},{"r":16,"s":50.5,"e":51.8,"k":"T"},{"r":16,"s":55.5,"e":56.7,"k":"L"},{"r":16,"s":67.9,"e":70.4,"k":"T"},{"r":16,"s":77.8,"e":81.5,"k":"T"},{"r":16,"s":87.7,"e":93.9,"k":"T"},{"r":16,"s":95.1,"e":97.6,"k":"U"},{"r":16,"s":98.9,"e":101.3,"k":"T"},
{"r":15,"s":0,"e":2.2,"k":"T"},{"r":15,"s":7.2,"e":8.4,"k":"U"},{"r":15,"s":14.6,"e":17.1,"k":"T"},{"r":15,"s":43.9,"e":46.8,"k":"C"},{"r":15,"s":51.8,"e":54.3,"k":"T"},{"r":15,"s":64.2,"e":66.6,"k":"L"},{"r":15,"s":76.6,"e":82.8,"k":"T"},{"r":15,"s":84,"e":96.4,"k":"T"},{"r":15,"s":100.1,"e":101.3,"k":"L"},{"r":15,"s":143.5,"e":147.2,"k":"U"},
{"r":14,"s":0,"e":1,"k":"L"},{"r":14,"s":22.1,"e":23.3,"k":"T"},{"r":14,"s":36.9,"e":39.4,"k":"T"},{"r":14,"s":50.5,"e":58,"k":"L"},{"r":14,"s":58,"e":60.5,"k":"C"},{"r":14,"s":62.9,"e":65.4,"k":"L"},{"r":14,"s":69.1,"e":71.6,"k":"T"},{"r":14,"s":82.8,"e":85.2,"k":"T"},{"r":14,"s":87.7,"e":89,"k":"L"},{"r":14,"s":102.6,"e":108.8,"k":"T"},
{"r":13,"s":0,"e":2.2,"k":"L"},{"r":13,"s":8.4,"e":10.9,"k":"T"},{"r":13,"s":22.1,"e":24.5,"k":"U"},{"r":13,"s":29.5,"e":32,"k":"L"},{"r":13,"s":44.4,"e":45.6,"k":"T"},{"r":13,"s":58,"e":60.5,"k":"C"},{"r":13,"s":62.9,"e":65.4,"k":"T"},{"r":13,"s":79,"e":89,"k":"T"},{"r":13,"s":97.6,"e":102.6,"k":"L"},{"r":13,"s":106.3,"e":107.5,"k":"U"},{"r":13,"s":111.2,"e":113.7,"k":"T"},{"r":13,"s":153.4,"e":160.3,"k":"T"},
{"r":12,"s":9.7,"e":12.1,"k":"U"},{"r":12,"s":13.4,"e":14.6,"k":"L"},{"r":12,"s":39.4,"e":40.6,"k":"U"},{"r":12,"s":58.7,"e":61.7,"k":"C"},{"r":12,"s":61.7,"e":79,"k":"L"},{"r":12,"s":79,"e":81.5,"k":"T"},{"r":12,"s":98.9,"e":100.1,"k":"T"},{"r":12,"s":101.3,"e":102.6,"k":"L"},{"r":12,"s":108.8,"e":113.7,"k":"T"},{"r":12,"s":131.1,"e":136,"k":"U"},
{"r":11,"s":17.1,"e":18.3,"k":"L"},{"r":11,"s":35.7,"e":36.9,"k":"L"},{"r":11,"s":59.2,"e":61.7,"k":"C"},{"r":11,"s":61.7,"e":93.9,"k":"L"},{"r":11,"s":103.8,"e":105.1,"k":"T"},{"r":11,"s":112.5,"e":113.7,"k":"T"},{"r":11,"s":133.6,"e":136,"k":"U"},
{"r":10,"s":2.2,"e":3.5,"k":"T"},{"r":10,"s":7.2,"e":9.7,"k":"U"},{"r":10,"s":10.9,"e":14.6,"k":"T"},{"r":10,"s":22.1,"e":24.5,"k":"T"},{"r":10,"s":34.4,"e":39.4,"k":"T"},{"r":10,"s":46.8,"e":49.3,"k":"C"},{"r":10,"s":49.3,"e":51.8,"k":"T"},{"r":10,"s":59.2,"e":62.9,"k":"T"},{"r":10,"s":101.3,"e":102.6,"k":"U"},{"r":10,"s":153.4,"e":155.8,"k":"T"},{"r":10,"s":170.7,"e":173.2,"k":"U"},
{"r":9,"s":3.5,"e":4.7,"k":"T"},{"r":9,"s":7.2,"e":9.7,"k":"T"},{"r":9,"s":15.9,"e":18.3,"k":"T"},{"r":9,"s":28.2,"e":32,"k":"L"},{"r":9,"s":32,"e":36.9,"k":"T"},{"r":9,"s":38.2,"e":45.6,"k":"L"},{"r":9,"s":45.6,"e":49.3,"k":"C"},{"r":9,"s":49.3,"e":50.5,"k":"T"},{"r":9,"s":56.7,"e":59.2,"k":"T"},{"r":9,"s":62.9,"e":64.2,"k":"T"},{"r":9,"s":124.9,"e":127.4,"k":"L"},{"r":9,"s":128.6,"e":131.1,"k":"T"},{"r":9,"s":136,"e":139.7,"k":"T"},{"r":9,"s":168.2,"e":170.7,"k":"U"},
{"r":8,"s":3.5,"e":5.9,"k":"T"},{"r":8,"s":8.4,"e":10.9,"k":"T"},{"r":8,"s":14.6,"e":17.1,"k":"T"},{"r":8,"s":22.1,"e":27,"k":"T"},{"r":8,"s":49.3,"e":51.8,"k":"C"},{"r":8,"s":59.2,"e":61.7,"k":"T"},{"r":8,"s":66.6,"e":74.1,"k":"T"},{"r":8,"s":77.8,"e":80.3,"k":"U"},{"r":8,"s":93.9,"e":96.4,"k":"T"},{"r":8,"s":103.8,"e":105.1,"k":"T"},{"r":8,"s":108.8,"e":111.2,"k":"T"},{"r":8,"s":133.6,"e":136,"k":"T"},{"r":8,"s":180.6,"e":183.1,"k":"U"},
{"r":7,"s":5.9,"e":8.4,"k":"T"},{"r":7,"s":14.6,"e":17.1,"k":"T"},{"r":7,"s":23.3,"e":35.7,"k":"T"},{"r":7,"s":49.3,"e":51.8,"k":"C"},{"r":7,"s":51.8,"e":54.3,"k":"U"},{"r":7,"s":59.2,"e":62.9,"k":"T"},{"r":7,"s":66.6,"e":69.1,"k":"L"},{"r":7,"s":81.5,"e":86.5,"k":"T"},{"r":7,"s":102.6,"e":103.8,"k":"T"},{"r":7,"s":143.5,"e":148.4,"k":"L"},{"r":7,"s":153.4,"e":155.8,"k":"T"},{"r":7,"s":163.3,"e":165.8,"k":"T"},
{"r":6,"s":8.4,"e":15.9,"k":"U"},{"r":6,"s":19.6,"e":22.1,"k":"T"},{"r":6,"s":49.3,"e":51.8,"k":"T"},{"r":6,"s":90.2,"e":95.1,"k":"C"},{"r":6,"s":107.5,"e":110,"k":"L"},{"r":6,"s":113.7,"e":118.7,"k":"T"},{"r":6,"s":124.9,"e":138.5,"k":"T"},{"r":6,"s":150.9,"e":160.8,"k":"L"},{"r":6,"s":160.8,"e":163.3,"k":"T"},{"r":6,"s":178.2,"e":183.1,"k":"U"},{"r":6,"s":183.1,"e":188.1,"k":"T"},
{"r":5,"s":0,"e":1,"k":"T"},{"r":5,"s":20.8,"e":22.1,"k":"L"},{"r":5,"s":66.6,"e":69.1,"k":"L"},{"r":5,"s":71.6,"e":74.1,"k":"T"},{"r":5,"s":77.8,"e":80.3,"k":"U"},{"r":5,"s":90.2,"e":95.1,"k":"C"},{"r":5,"s":96.4,"e":100.1,"k":"T"},{"r":5,"s":110,"e":118.7,"k":"L"},{"r":5,"s":118.7,"e":121.2,"k":"T"},{"r":5,"s":132.3,"e":136,"k":"L"},{"r":5,"s":136,"e":138.5,"k":"T"},{"r":5,"s":154.6,"e":158.3,"k":"L"},{"r":5,"s":162,"e":168.2,"k":"T"},{"r":5,"s":179.4,"e":183.1,"k":"T"},
{"r":4,"s":0,"e":1,"k":"L"},{"r":4,"s":5.9,"e":9.7,"k":"L"},{"r":4,"s":25.8,"e":33.2,"k":"L"},{"r":4,"s":36.9,"e":39.4,"k":"T"},{"r":4,"s":43.1,"e":45.6,"k":"U"},{"r":4,"s":50.5,"e":54.3,"k":"T"},{"r":4,"s":61.7,"e":64.2,"k":"T"},{"r":4,"s":91.4,"e":93.9,"k":"C"},{"r":4,"s":167,"e":168.2,"k":"T"},{"r":4,"s":237.6,"e":238.9,"k":"L"},{"r":4,"s":240,"e":243.8,"k":"L"},
{"r":3,"s":27,"e":33.2,"k":"T"},{"r":3,"s":44.4,"e":46.8,"k":"T"},{"r":3,"s":53,"e":54.3,"k":"U"},{"r":3,"s":76.6,"e":79,"k":"T"},{"r":3,"s":87.7,"e":91.4,"k":"T"},{"r":3,"s":91.9,"e":95.1,"k":"C"},{"r":3,"s":108.8,"e":111.2,"k":"T"},{"r":3,"s":128.6,"e":131.1,"k":"T"},
{"r":2,"s":28.2,"e":30.7,"k":"T"},{"r":2,"s":44.4,"e":46.8,"k":"L"},{"r":2,"s":58,"e":60.5,"k":"L"},{"r":2,"s":72.8,"e":75.3,"k":"T"},{"r":2,"s":91.4,"e":92.7,"k":"U"},{"r":2,"s":108.8,"e":111.2,"k":"T"},{"r":2,"s":113.7,"e":118.7,"k":"T"},{"r":2,"s":121.7,"e":143.5,"k":"C"},{"r":2,"s":144.7,"e":155.8,"k":"L"},{"r":2,"s":155.8,"e":158.3,"k":"U"},{"r":2,"s":160.8,"e":163.3,"k":"T"},{"r":2,"s":165.8,"e":168.2,"k":"L"},{"r":2,"s":178.2,"e":184.3,"k":"L"},{"r":2,"s":202.9,"e":205.4,"k":"U"},{"r":2,"s":225.2,"e":227.7,"k":"L"},{"r":2,"s":242.6,"e":243.8,"k":"L"},
{"r":1,"s":91.4,"e":93.9,"k":"T"},{"r":1,"s":93.9,"e":95.1,"k":"U"},{"r":1,"s":108.8,"e":111.2,"k":"T"},{"r":1,"s":113.7,"e":118.7,"k":"T"},{"r":1,"s":121.7,"e":143,"k":"C"},{"r":1,"s":143,"e":148.4,"k":"T"},{"r":1,"s":150.9,"e":152.9,"k":"L"},{"r":1,"s":153.9,"e":157.1,"k":"T"},{"r":1,"s":158.3,"e":160.8,"k":"L"},{"r":1,"s":163.3,"e":165.8,"k":"T"},{"r":1,"s":183.1,"e":189.3,"k":"U"},{"r":1,"s":230.2,"e":233.9,"k":"L"}
]
},
"vconcat": [
{
 "title": {"text": "SWE 1 est. ancestry", "offset": 16},
 "width": 362, "height": 323,
 "data": {"name": "swe"},
 "mark": {"type": "bar", "orient": "horizontal", "size": 4},
 "encoding": {
  "y": {"field": "r", "type": "quantitative", "scale": {"domain": [-0.75, 46.8], "nice": false, "zero": false},
        "axis": {"values": [1,2,3,4,5,6,7,8,9,10,11,12,13,14,15,16,17,18,19,20,21,22,23,24,25,26,27,28,29,30,31,32,33,34,35,36,37,38,39,40,41,42,43,44], "labelExpr": "'Chr' + ceil(datum.value/2) + (datum.value % 2 == 1 ? '_A' : '_B')", "labelFontSize": 4.8, "tickSize": 5, "labelPadding": 7, "offset": 1.5, "title": null, "labelOverlap": false, "labelFlush": false, "labelBound": false}},
  "x": {"field": "s", "type": "quantitative", "scale": {"domain": [-10, 257.4], "nice": false, "zero": false},
        "axis": {"values": [0,50,100,150,200,250], "labelExpr": "replace(format(datum.value*1000000, '.1e'), 'e+', 'e+0')", "labelFontSize": 10, "tickSize": 7, "labelPadding": 7, "title": "SNP map location", "titleFontSize": 10, "titlePadding": 15, "labelFlush": false, "labelOverlap": false}},
  "x2": {"field": "e"},
  "color": {"field": "k", "type": "nominal", "scale": {"domain": ["S","H","N","L","T","U","C"], "range": ["#9B7FE3","#7CC8F2","#0000A8","#CC0000","#E8A840","#808080","#000000"]},
        "legend": {"legendX": 183, "legendY": 17, "labelExpr": "datum.label == 'S' ? '> 0.8 Prob of SWE ancestry' : datum.label == 'H' ? '> 0.8Prob of HAD ancestry' : datum.label == 'N' ? '> 0.8 Prob of SAN ancestry' : datum.label == 'L' ? '> 0.8 Prob ofLWK ancestry' : datum.label == 'T' ? '> 0.8 Prob of TSI ancestry' : datum.label == 'U' ? 'Undecided' : 'Centromere'"}}
 }
},
{
 "title": {"text": "SAN 1 est. ancestry", "offset": 18.5},
 "width": 360, "height": 320,
 "data": {"name": "san"},
 "mark": {"type": "bar", "orient": "horizontal", "size": 4},
 "encoding": {
  "y": {"field": "r", "type": "quantitative", "scale": {"domain": [-0.74, 46.67], "nice": false, "zero": false},
        "axis": {"values": [1,2,3,4,5,6,7,8,9,10,11,12,13,14,15,16,17,18,19,20,21,22,23,24,25,26,27,28,29,30,31,32,33,34,35,36,37,38,39,40,41,42,43,44], "labelExpr": "'Chr' + ceil(datum.value/2) + (datum.value % 2 == 1 ? '_A' : '_B')", "labelFontSize": 4.8, "tickSize": 5, "labelPadding": 7, "offset": 1.5, "title": null, "labelOverlap": false, "labelFlush": false, "labelBound": false}},
  "x": {"field": "s", "type": "quantitative", "scale": {"domain": [-10, 257.4], "nice": false, "zero": false},
        "axis": {"values": [0,50,100,150,200,250], "labelExpr": "replace(format(datum.value*1000000, '.1e'), 'e+', 'e+0')", "labelFontSize": 10, "tickSize": 7, "labelPadding": 7, "title": "SNP map location", "titleFontSize": 10, "titlePadding": 15, "labelFlush": false, "labelOverlap": false}},
  "x2": {"field": "e"},
  "color": {"field": "k", "type": "nominal", "scale": {"domain": ["S","H","N","L","T","U","C"], "range": ["#9B7FE3","#7CC8F2","#0000A8","#CC0000","#E8A840","#808080","#000000"]},
        "legend": {"legendX": 180, "legendY": 15, "labelExpr": "datum.label == 'S' ? '> 0.8 Prob of SWE ancestry' : datum.label == 'H' ? '> 0.8Prob of HAD ancestry' : datum.label == 'N' ? '> 0.8 Prob of SAN ancestry' : datum.label == 'L' ? '> 0.8 Prob ofLWK ancestry' : datum.label == 'T' ? '> 0.8 Prob of TSI ancestry' : datum.label == 'U' ? 'Undecided' : 'Centromere'"}}
 }
}
]
}
